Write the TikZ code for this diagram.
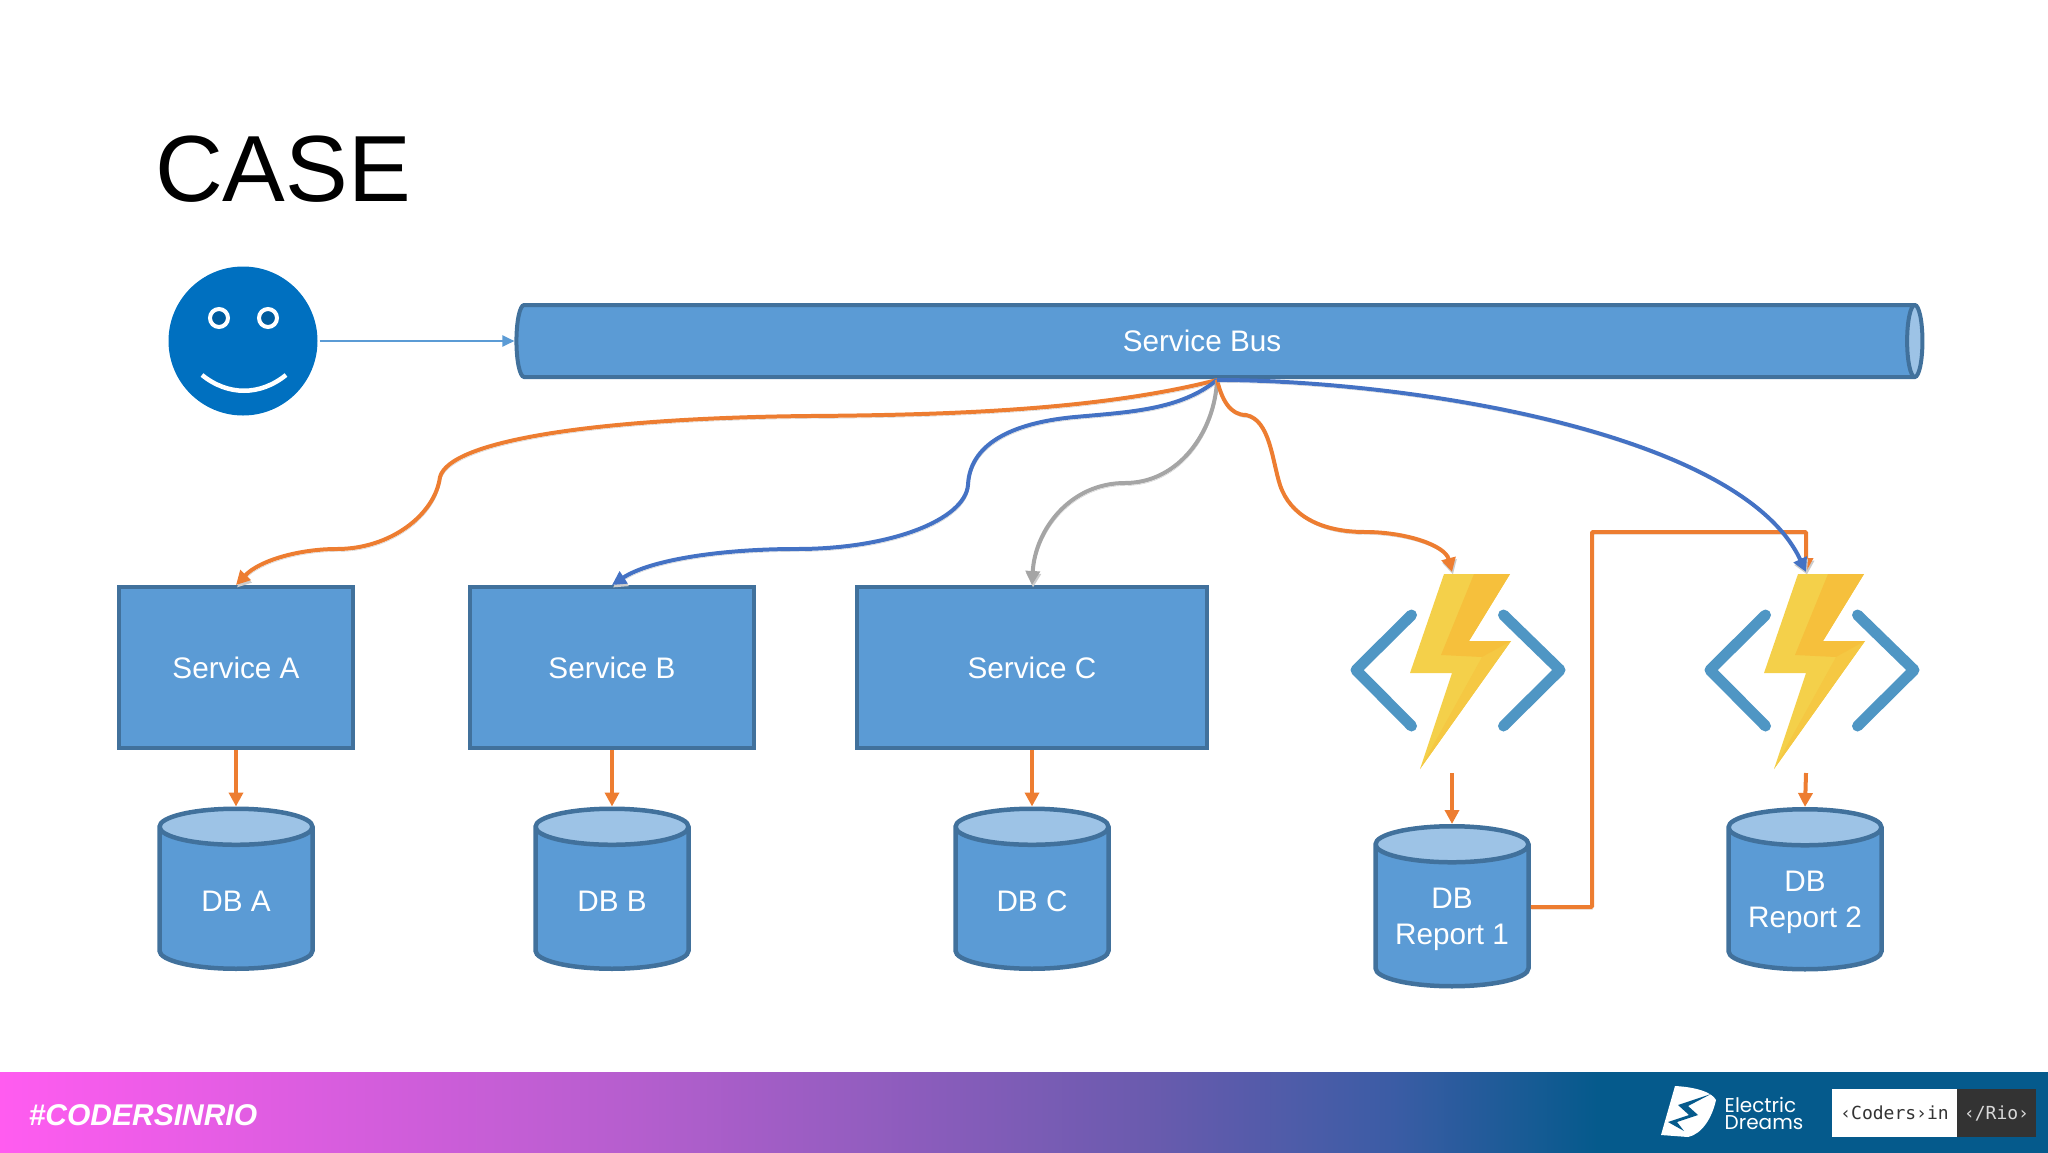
\documentclass[tikz,border=0pt]{standalone}
\usepackage{fontspec}
\setmainfont{Liberation Sans}
\newfontfamily\logofont{Poppins}
\newfontfamily\codefont{DejaVu Sans Mono}
\usetikzlibrary{shapes.geometric,arrows.meta}

\definecolor{boxfill}{HTML}{5B9BD5}
\definecolor{boxline}{HTML}{41719C}
\definecolor{boxtop}{HTML}{9DC3E6}
\definecolor{lineorange}{HTML}{ED7D31}
\definecolor{lineblue}{HTML}{4472C4}
\definecolor{linegray}{HTML}{A5A5A5}
\definecolor{smileblue}{HTML}{0070C0}
\definecolor{pupilblue}{HTML}{005C9E}
\definecolor{iconblue}{HTML}{4F96C4}
\definecolor{boltlight}{HTML}{F4D04A}
\definecolor{boltmid}{HTML}{F5C843}
\definecolor{boltdark}{HTML}{F6C03C}
\definecolor{footerblue}{HTML}{055A8C}
\definecolor{codedark}{HTML}{333333}
\definecolor{footerpink}{HTML}{FF5CF0}
\definecolor{footerviolet}{HTML}{B55ECE}
\definecolor{footerindigo}{HTML}{6A5BAE}
\definecolor{footernavy}{HTML}{3B5CA5}

\pgfdeclarehorizontalshading{footershade}{100bp}{
    color(0bp)=(footerpink);
    color(25bp)=(footerpink);
    color(40.5bp)=(footerviolet);
    color(53bp)=(footerindigo);
    color(59bp)=(footernavy);
    color(64bp)=(footerblue);
    color(100bp)=(footerblue)
}

\tikzstyle{arrow} = [line width=4pt,->,>={Triangle[length=14pt,width=14pt]}]
\tikzstyle{thinarrow} = [line width=2.2pt,->,>={Triangle[length=12pt,width=11pt]},draw=boxfill]
\tikzstyle{lineshadow} = [preaction={draw=black!20,transform canvas={xshift=1pt,yshift=-2.5pt}}]
\tikzstyle{block} = [
        rectangle,
        minimum height=161pt,
        text centered,
        text=white,
        line width=4pt,
        draw=boxline,
        fill=boxfill
    ]
\tikzstyle{dbcyl} = [
        cylinder,
        shape border rotate=90,
        aspect=0.28,
        text width=122pt,
        minimum width=153pt,
        minimum height=160pt,
        align=flush center,
        text=white,
        line width=4.5pt,
        draw=boxline,
        cylinder uses custom fill,
        cylinder body fill=boxfill,
        cylinder end fill=boxtop
    ]
\tikzset{
    pics/funcicon/.style={code={
        \draw [iconblue,line width=11pt,line cap=round,line join=round]
            (-46.5,-55) -- (-102,0) -- (-46.5,56)
            (45.5,-55) -- (102,0) -- (45.5,56);
        \fill [boltlight] (-14,-96) -- (52,-96) -- (11,-29) -- (53,-29) -- (-38,99) -- (-6,3) -- (-48,3) -- cycle;
        \fill [boltmid] (53,-29) -- (-38,99) -- (24,-13) -- cycle;
        \fill [boltdark] (16,-96) -- (52,-96) -- (11,-29) -- (53,-29) -- (24,-13) -- (-17,-15) -- cycle;
        \coordinate (-in) at (-6,-98);
        \coordinate (-out) at (-6,103);
    }}
}

\begin{document}
\begin{tikzpicture}[x=1pt,y=-1pt,node distance=234pt,font=\fontsize{29.7}{36}\selectfont]
        \useasboundingbox (0,0) rectangle (2048,1152);

        \node (title) [font=\fontsize{94}{100}\selectfont] at (283,169) {CASE};

        % user and bus
        \node (smiley) [circle,fill=smileblue,minimum size=149pt,inner sep=0pt] at (243,341) {};
        \node (eyea) [circle,draw=white,line width=4pt,fill=pupilblue,minimum size=18pt,inner sep=0pt] at (219,318) {};
        \node (eyeb) [circle,draw=white,line width=4pt,fill=pupilblue,minimum size=18pt,inner sep=0pt] at (268,318) {};
        \coordinate (smilea) at (202,375);
        \coordinate (smileb) at (286,375);
        \draw [white,line width=4.5pt] (smilea) .. controls (228,396) and (260,396) .. (smileb);

        \node (bus) [%
            cylinder,%
            aspect=2.3,%
            minimum width=72pt,%
            minimum height=1406pt,%
            line width=4pt,%
            draw=boxline,%
            cylinder uses custom fill,%
            cylinder body fill=boxfill,%
            cylinder end fill=boxtop,%
            label={[text=white,xshift=-11pt]center:Service Bus}%
            ] at (1213,341) {};

        % services
        \node (servicea) [block,minimum width=234pt] at (236,667.5) {Service A};
        \node (serviceb) [block,minimum width=284pt] at (612,667.5) {Service B};
        \node (servicec) [block,minimum width=350pt] at (1032,667.5) {Service C};

        \node (dba) [dbcyl,below of=servicea] {DB A};
        \node (dbb) [dbcyl,below of=serviceb] {DB B};
        \node (dbc) [dbcyl,below of=servicec] {DB C};

        % functions
        \pic (funca) at (1458,670) {funcicon};
        \pic (funcb) at (1812,670) {funcicon};
        \node (dbreporta) [dbcyl] at (1452,919) {DB\\Report 1};
        \node (dbreportb) [dbcyl] at (1805,902) {DB\\Report 2};

        \coordinate (hub) at (1217,380);
        \coordinate (elbowa) at ([yshift=12pt]dbreporta.east);
        \coordinate (elbowb) at (1592,532);

        % connectors
        \draw [thinarrow,shorten <=2pt] (smiley) -- (bus.west);

        \draw [arrow,draw=lineorange,fill=lineorange] (servicea) -- (dba.north);
        \draw [arrow,draw=lineorange,fill=lineorange] (serviceb) -- (dbb.north);
        \draw [arrow,draw=lineorange,fill=lineorange] (servicec) -- (dbc.north);
        \draw [arrow,draw=lineorange,fill=lineorange] (funca-out) -- (dbreporta.north);
        \draw [arrow,draw=lineorange,fill=lineorange] (funcb-out) -- (dbreportb.north);

        \draw [arrow,lineshadow,draw=lineorange,rounded corners=1pt] (elbowa) -- (elbowb |- elbowa) -- (elbowb) -- (elbowb -| funcb-in) -- (funcb-in);

        \draw [arrow,lineshadow,draw=lineorange] (hub)
            .. controls (1100,410) and (950,415) .. (810,416)
            .. controls (600,418) and (450,440) .. (440,477)
            .. controls (435,515) and (390,549) .. (337,549)
            .. controls (300,549) and (260,560) .. (servicea.north);
        \draw [arrow,lineshadow,draw=lineblue] (hub)
            .. controls (1180,410) and (1130,412) .. (1075,417)
            .. controls (1020,422) and (970,440) .. (968,485)
            .. controls (965,520) and (890,549) .. (797,549)
            .. controls (720,549) and (650,560) .. (serviceb.north);
        \draw [arrow,lineshadow,draw=linegray] (hub)
            .. controls (1215,430) and (1180,483) .. (1125,483)
            .. controls (1070,483) and (1035,530) .. (servicec.north);
        \draw [arrow,lineshadow,draw=lineorange] (hub)
            .. controls (1222,400) and (1230,415) .. (1246,415)
            .. controls (1270,420) and (1272,460) .. (1280,485)
            .. controls (1290,515) and (1320,532) .. (1365,532)
            .. controls (1405,532) and (1445,545) .. (funca-in);
        \draw [arrow,lineshadow,draw=lineblue] (hub)
            .. controls (1400,380) and (1740,430) .. (funcb-in);

        % footer
        \shade [shading=footershade] (0,1072) rectangle (2048,1152);
        \node (hashtag) [text=white,font=\fontsize{30}{36}\selectfont\bfseries\itshape] at (143,1115) {\#CODERSINRIO};

        \fill [white] (1675,1086) .. controls (1695,1087) and (1712,1092) .. (1716,1100)
            .. controls (1712,1118) and (1702,1134) .. (1688,1137) -- (1661,1135) -- cycle;
        \fill [footerblue] (1711,1094) -- (1678,1105) -- (1689,1115) -- (1668,1122) -- (1684,1131)
            -- (1677,1122) -- (1698,1115) -- (1688,1106) -- cycle;
        \node (electric) [text=white,align=left,font=\fontsize{20}{17}\logofont\selectfont] at (1764,1113) {Electric\\Dreams};

        \node (coders) [fill=white,minimum width=125pt,minimum height=48pt,inner sep=0pt,text=codedark,font=\fontsize{18}{20}\codefont\selectfont] at (1894.5,1113) {‹Coders›in};
        \node (rio) [fill=codedark,minimum width=79pt,minimum height=48pt,inner sep=0pt,text=black!15,font=\fontsize{18}{20}\codefont\selectfont] at (1996.5,1113) {‹/Rio›};
    \end{tikzpicture}
\end{document}
